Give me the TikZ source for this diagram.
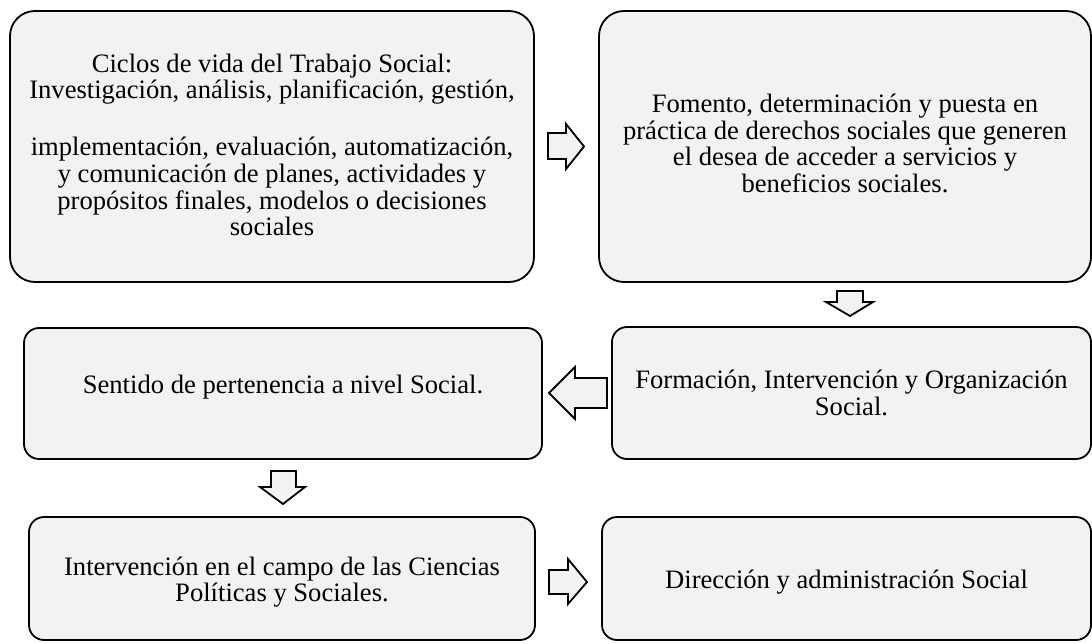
\documentclass[tikz,border=0pt]{standalone}
\usepackage{fontspec}
\setmainfont{Liberation Serif}
\definecolor{boxfill}{HTML}{F2F2F2}
\begin{document}
\begin{tikzpicture}[x=1pt,y=-1pt,
  box/.style={draw=black,line width=1.8pt,fill=boxfill,inner sep=0pt},
  boxtext/.style={align=center,inner sep=0pt,font=\fontsize{26.6}{26.7}\selectfont},
  blockarrow/.style={draw=black,line width=1.8pt,fill=boxfill,line join=miter}]
\useasboundingbox (0,0) rectangle (1092,644);
\fill[white] (0,0) rectangle (1092,644);
% boxes
\node[box,rounded corners=25pt,minimum width=524pt,minimum height=271pt] (b1) at (272,146.5) {};
\node[box,rounded corners=25pt,minimum width=492pt,minimum height=271pt] (b2) at (845,146.5) {};
\node[box,rounded corners=15pt,minimum width=518pt,minimum height=131pt] (b3) at (283,393.5) {};
\node[box,rounded corners=15pt,minimum width=479pt,minimum height=132pt] (b4) at (851.5,393) {};
\node[box,rounded corners=15pt,minimum width=506pt,minimum height=123pt] (b5) at (282,578.5) {};
\node[box,rounded corners=15pt,minimum width=489pt,minimum height=123pt] (b6) at (846.5,578.5) {};
% texts
\node[boxtext,yshift=1.5pt] (t1) at (b1.center)
 {Ciclos de vida del Trabajo Social:\\Investigación, análisis, planificación, gestión,\\[30.3pt]
  implementación, evaluación, automatización,\\y comunicación de planes, actividades y\\
  propósitos finales, modelos o decisiones\\sociales};
\node[boxtext,yshift=3pt] (t2) at (b2.center)
 {Fomento, determinación y puesta en\\práctica de derechos sociales que generen\\
  el desea de acceder a servicios y\\beneficios sociales.};
\node[boxtext,yshift=6pt] (t3) at (b3.center) {Sentido de pertenencia a nivel Social.};
\node[boxtext] (t4) at (b4.center) {Formación, Intervención y Organización\\Social.};
\node[boxtext,yshift=-3.5pt] (t5) at (b5.center) {Intervención en el campo de las Ciencias\\Políticas y Sociales.};
\node[boxtext,yshift=-3.5pt] (t6) at (b6.center) {Dirección y administración Social};
% block arrows
\draw[blockarrow] (548,133) -- (566,133) -- (566,124) -- (584,146.5) -- (566,169) -- (566,159) -- (548,159) -- cycle;
\draw[blockarrow] (837,291) -- (863,291) -- (863,302) -- (873,302) -- (850,316) -- (826,302) -- (837,302) -- cycle;
\draw[blockarrow] (607,378) -- (575,378) -- (575,367) -- (549,393) -- (575,419) -- (575,408) -- (607,408) -- cycle;
\draw[blockarrow] (271,471) -- (296,471) -- (296,487) -- (305,487) -- (283,504) -- (260,487) -- (271,487) -- cycle;
\draw[blockarrow] (549,570) -- (568,570) -- (568,559) -- (587,582) -- (568,604) -- (568,594) -- (549,594) -- cycle;
\end{tikzpicture}
\end{document}
